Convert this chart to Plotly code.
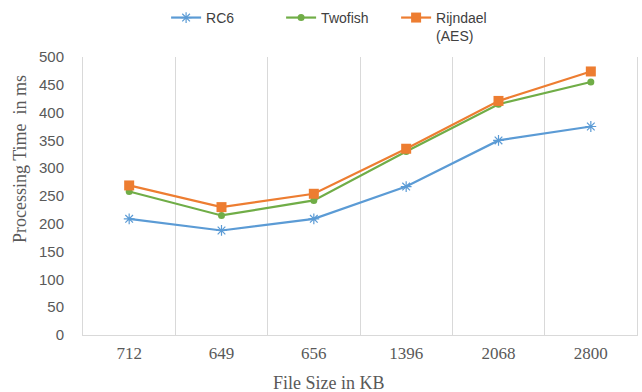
import plotly.graph_objects as go

file_sizes = ["712", "649", "656", "1396", "2068", "2800"]
rc6 = [209, 188, 209, 267, 350, 375]
twofish = [258, 215, 242, 330, 415, 455]
rijndael = [269, 230, 254, 335, 421, 474]

fig = go.Figure()
fig.add_trace(go.Scatter(
    x=file_sizes, y=rc6, name="RC6", mode="lines+markers",
    line=dict(color="#5B9BD5", width=2.2),
    marker=dict(symbol="asterisk-open", size=9, color="#5B9BD5",
                line=dict(color="#5B9BD5", width=1.2)),
))
fig.add_trace(go.Scatter(
    x=file_sizes, y=twofish, name="Twofish", mode="lines+markers",
    line=dict(color="#70AD47", width=2.2),
    marker=dict(symbol="circle", size=7, color="#70AD47"),
))
fig.add_trace(go.Scatter(
    x=file_sizes, y=rijndael, name="Rijndael<br>(AES)", mode="lines+markers",
    line=dict(color="#ED7D31", width=2.2),
    marker=dict(symbol="square", size=10, color="#ED7D31"),
))

title_font = dict(family="Liberation Serif", size=18, color="#595959")

fig.update_layout(
    width=642, height=392,
    margin=dict(l=83, r=5, t=57, b=57, autoexpand=False),
    paper_bgcolor="white", plot_bgcolor="white",
    showlegend=True,
    legend=dict(orientation="h", x=0.15, xanchor="left", y=0.995, yanchor="top",
                yref="container", font=dict(family="Liberation Sans", size=14, color="#404040"),
                traceorder="normal", valign="top",
                entrywidth=70, entrywidthmode="pixels"),
    xaxis=dict(
        type="category", tickson="boundaries", range=[-0.5, 5.5],
        showgrid=True, gridcolor="#D9D9D9", gridwidth=1,
        showline=True, linecolor="#D9D9D9", ticks="", ticklabelstandoff=3,
        tickfont=dict(family="Liberation Serif", size=17, color="#595959"),
    ),
    yaxis=dict(
        range=[0, 500], dtick=50, showgrid=False, zeroline=False,
        showline=True, mirror=True, linecolor="#D9D9D9",
        ticklabelstandoff=15,
        tickfont=dict(family="Liberation Sans", size=15, color="#595959"),
    ),
    annotations=[
        dict(text="File Size in KB", xref="paper", yref="paper",
             x=0.444, y=-0.1727, xanchor="center", yanchor="middle",
             showarrow=False, font=title_font),
        dict(text="Processing Time  in ms", xref="paper", yref="paper",
             x=-0.1137, y=0.633, xanchor="center", yanchor="middle",
             textangle=-90, showarrow=False, font=title_font),
    ],
)

fig.write_html("out.html")
